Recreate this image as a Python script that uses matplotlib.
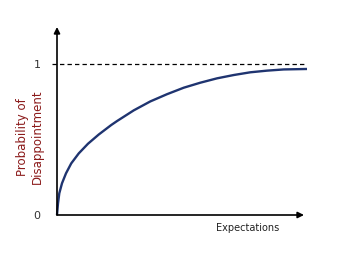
import matplotlib
matplotlib.use('Agg')
import matplotlib.pyplot as plt

# Curve (fraction of x range, probability)
expectations = [0.0, 0.004, 0.0092, 0.02, 0.036, 0.057, 0.087, 0.124, 0.167,
                0.217, 0.24, 0.307, 0.373, 0.44, 0.507, 0.573, 0.64, 0.707,
                0.773, 0.84, 0.907, 1.0]
probability = [0.0, 0.077, 0.144, 0.21, 0.276, 0.342, 0.408, 0.472, 0.533,
               0.596, 0.622, 0.693, 0.752, 0.800, 0.843, 0.876, 0.905, 0.927,
               0.945, 0.956, 0.964, 0.967]
y_ticks = [0, 1]
y_tick_labels = ['0', '1']

fig = plt.figure(figsize=(3.5, 2.7), dpi=100)
# axes from pixel x 57..307, y 27..215 (top-down)
ax = fig.add_axes([57 / 350, (270 - 215) / 270, 250 / 350, (215 - 27) / 270])
ax.set_xlim(0, 1)
ax.set_ylim(0, (215 - 27) / 151)

for s in ax.spines.values():
    s.set_visible(False)
ax.set_xticks([])
ax.set_yticks(y_ticks)
ax.set_yticklabels(y_tick_labels, fontsize=8, color='#333333')
ax.tick_params(axis='y', length=0, pad=12)

# arrows for axes
ax.annotate('', xy=(0.988, 0), xytext=(0, 0), xycoords='data',
            arrowprops=dict(arrowstyle='-|>', color='black', lw=1.2,
                            mutation_scale=9, shrinkA=0, shrinkB=0),
            annotation_clip=False)
ax.annotate('', xy=(0, 1.245), xytext=(0, 0), xycoords='data',
            arrowprops=dict(arrowstyle='-|>', color='black', lw=1.2,
                            mutation_scale=9, shrinkA=0, shrinkB=0),
            annotation_clip=False)

# dashed line at 1
ax.plot([-0.02, 0.996], [1, 1], color='black', lw=0.9, ls=(0, (3.5, 2.5)), clip_on=False)

ax.plot(expectations, probability, color='#1f3470', lw=1.7, clip_on=False,
        solid_capstyle='butt', solid_joinstyle='round')

fig.text(248 / 350, 1 - 228 / 270, 'Expectations', fontsize=7, color='#222222',
         ha='center', va='center')
fig.text(30 / 350, 1 - 137 / 270, 'Probability of\nDisappointment', fontsize=8.5,
         color='#8b1a1a', rotation=90, ha='center', va='center', linespacing=1.1)

fig.savefig('out.png', dpi=100)
